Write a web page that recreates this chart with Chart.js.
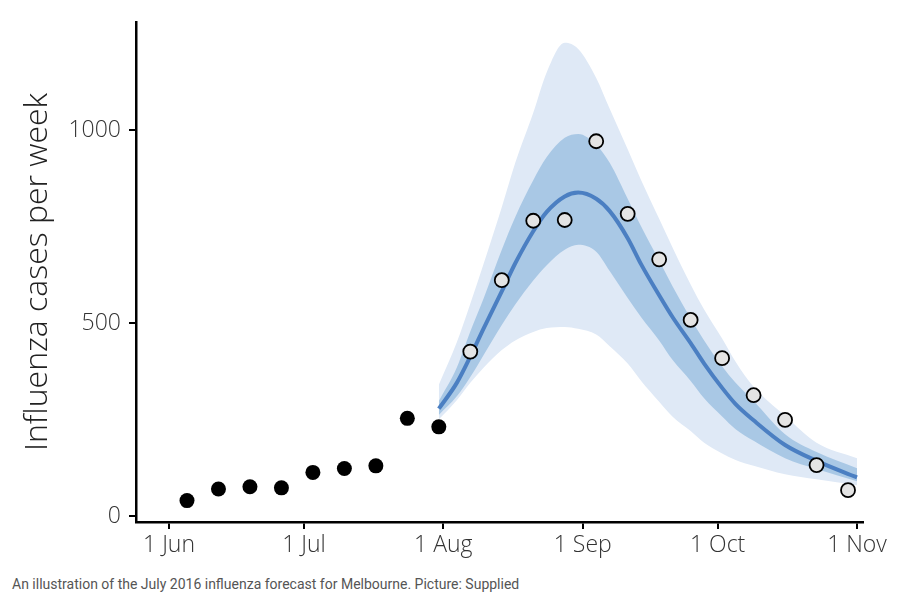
<!DOCTYPE html>
<html>
<head>
<meta charset="utf-8">
<script src="https://cdn.jsdelivr.net/npm/chart.js@4/dist/chart.umd.min.js"></script>
<style>
  body { margin: 0; background: #fff; }
  #wrap { position: relative; width: 920px; height: 570px; }
  #caption {
    position: absolute; left: 12px; top: 576px;
    font: 14px Roboto, sans-serif; color: #555;
  }
</style>
</head>
<body>
<div id="wrap"><canvas id="myChart"></canvas></div>
<div id="caption">An illustration of the July 2016 influenza forecast for Melbourne. Picture: Supplied</div>
<script>
// days counted from 1 June 2016
const tickDays = [0, 30, 61, 92, 122, 153];
const tickLabels = ["1 Jun", "1 Jul", "1 Aug", "1 Sep", "1 Oct", "1 Nov"];

// weekly counts known when the forecast was made
const pastDays = [4, 11, 18, 25, 32, 39, 46, 53, 60];
const pastCases = [40, 70, 76, 73, 113, 123, 130, 253, 231];

// weekly counts observed afterwards
const laterDays = [67, 74, 81, 88, 95, 102, 109, 116, 123, 130, 137, 144, 151];
const laterCases = [426, 611, 765, 767, 971, 783, 665, 508, 409, 313, 249, 132, 67];

// forecast
const fcDays = [60, 64, 67, 70, 74, 77, 81, 84, 88, 91, 95, 98, 102, 105, 109, 112, 116, 119, 123, 126, 130, 137, 144, 153];
const median = [278, 345, 413, 487, 582, 655, 738, 788, 828, 838, 822, 790, 720, 652, 572, 515, 448, 395, 332, 290, 248, 184, 143, 100];
const innerHigh = [298, 385, 478, 565, 690, 775, 870, 930, 980, 990, 962, 915, 822, 750, 662, 595, 512, 455, 388, 345, 298, 212, 166, 124];
const innerLow = [262, 310, 360, 418, 495, 548, 610, 650, 690, 703, 685, 635, 565, 515, 455, 404, 350, 305, 258, 225, 195, 150, 122, 90];
const outerHigh = [340, 450, 550, 655, 800, 915, 1045, 1150, 1226, 1210, 1135, 1055, 950, 870, 770, 695, 600, 535, 460, 400, 335, 260, 190, 150];
const outerLow = [250, 300, 345, 385, 430, 455, 477, 487, 490, 485, 470, 440, 395, 350, 296, 257, 220, 190, 162, 145, 130, 108, 95, 80];

const pts = (xs, ys) => xs.map((x, i) => ({ x: x, y: ys[i] }));

const band = (ys, colour, fill, order) => ({
  type: "line",
  data: pts(fcDays, ys),
  borderWidth: 0,
  borderColor: "rgba(0,0,0,0)",
  backgroundColor: colour,
  pointRadius: 0,
  cubicInterpolationMode: "monotone",
  fill: fill,
  order: order,
});

const labelFont = { family: "'Open Sans', sans-serif", size: 23, weight: 300 };

const config = {
  type: "line",
  data: {
    datasets: [
      band(outerHigh, "#dfe9f6", "+1", 10),
      band(outerLow, "#dfe9f6", false, 10),
      band(innerHigh, "#a9c8e5", "+1", 8),
      band(innerLow, "#a9c8e5", false, 8),
      {
        data: pts(fcDays, median),
        borderColor: "#4b7fc2",
        borderWidth: 4,
        pointRadius: 0,
        cubicInterpolationMode: "monotone",
        fill: false,
        order: 5,
      },
      {
        data: pts(pastDays, pastCases),
        showLine: false,
        pointRadius: 7.5,
        pointBackgroundColor: "#000",
        pointBorderColor: "#000",
        pointBorderWidth: 0,
        order: 2,
      },
      {
        data: pts(laterDays, laterCases),
        showLine: false,
        pointRadius: 7,
        pointBackgroundColor: "#e4e4e4",
        pointBorderColor: "#000",
        pointBorderWidth: 1.8,
        order: 1,
      },
    ],
  },
  options: {
    responsive: true,
    maintainAspectRatio: false,
    animation: false,
    layout: { padding: { top: 22, right: 57, left: 0, bottom: 0 } },
    plugins: { legend: { display: false }, tooltip: { enabled: false } },
    scales: {
      x: {
        type: "linear",
        min: -7.34,
        max: 154.33,
        afterBuildTicks: (scale) => {
          scale.ticks = tickDays.map((v) => ({ value: v }));
        },
        afterFit: (scale) => {
          scale.height = 48;
        },
        ticks: {
          callback: (v) => tickLabels[tickDays.indexOf(v)],
          font: labelFont,
          color: "#333",
          padding: 3,
          maxRotation: 0,
        },
        grid: { drawOnChartArea: false, tickLength: 7, color: "#000", lineWidth: 2 },
        border: { color: "#000", width: 2.5 },
      },
      y: {
        min: -15.5,
        max: 1280,
        afterBuildTicks: (scale) => {
          scale.ticks = [0, 500, 1000].map((v) => ({ value: v }));
        },
        afterFit: (scale) => {
          scale.width = 136;
        },
        ticks: { font: labelFont, color: "#333", padding: 8, callback: (v) => String(v) },
        grid: { drawOnChartArea: false, tickLength: 7, color: "#000", lineWidth: 2 },
        border: { color: "#000", width: 2.5 },
        title: {
          display: true,
          text: "Influenza cases per week",
          font: { family: "'Open Sans', sans-serif", size: 32, weight: 300 },
          color: "#222",
          padding: { top: 19, bottom: 0 },
        },
      },
    },
  },
};

new Chart(document.getElementById("myChart"), config);
</script>
</body>
</html>
